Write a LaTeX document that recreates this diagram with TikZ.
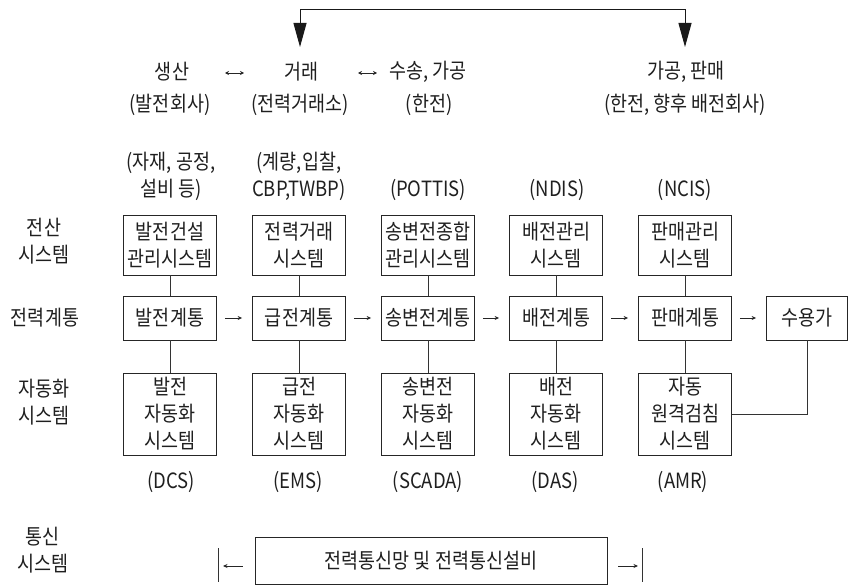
\documentclass[tikz,border=0pt]{standalone}
\usepackage{fontspec}
\setmainfont{Noto Sans CJK KR}[FakeStretch=0.88]
\usetikzlibrary{arrows.meta}
\begin{document}
\begin{tikzpicture}[x=1pt,y=-1pt,
  every node/.style={font=\fontsize{21}{27}\selectfont, text=black!88, inner sep=0pt, align=center},
  box/.style={draw=black!85, line width=0.8pt, minimum width=93pt},
  boxA/.style={box, minimum height=60pt},
  boxB/.style={box, minimum height=44pt},
  boxC/.style={box, minimum height=82pt},
  conn/.style={draw=black!80, line width=0.8pt},
  harrow/.style={draw=black!85, line width=0.8pt, -{Stealth[length=4.5pt,width=4pt]}},
  darrow/.style={draw=black!85, line width=0.8pt, {Stealth[length=4pt,width=4pt]}-{Stealth[length=4pt,width=4pt]}},
  bigarrow/.style={draw=black!90, line width=1pt, {Triangle[length=24pt,width=13pt]}-{Triangle[length=24pt,width=13pt]}}
]
\useasboundingbox (0,0) rectangle (849,586);

% top flow
\node (t1) at (172,72) {생산};
\node (t2) at (301,72) {거래};
\node (t3) at (428,72) {수송, 가공};
\node (t4) at (686,72) {가공, 판매};
\node (s1) at (170,105) {(발전회사)};
\node (s2) at (300,105) {(전력거래소)};
\node (s3) at (429,105) {(한전)};
\node (s4) at (685,105) {(한전, 향후 배전회사)};

\coordinate (d1a) at (225,73);
\coordinate (d1b) at (244,73);
\coordinate (d2a) at (358,73);
\coordinate (d2b) at (377,73);
\draw[darrow] (d1a) -- (d1b);
\draw[darrow] (d2a) -- (d2b);

\coordinate (ta) at (300,10);
\coordinate (tae) at (300,47);
\coordinate (tb) at (685,10);
\coordinate (tbe) at (685,47);
\draw[bigarrow] (tae) -- (ta) -- (tb) -- (tbe);

% system labels
\node (l1) at (171,176.5) {(자재, 공정,\\설비 등)};
\node (l2) at (299,176.5) {(계량,입찰,\\CBP,TWBP)};
\node (l3) at (428,190) {(POTTIS)};
\node (l4) at (557,190) {(NDIS)};
\node (l5) at (685,190) {(NCIS)};

% left labels
\node (r1) at (44,241.5) {전산\\시스템};
\node (r2) at (45,318) {전력계통};
\node (r3) at (44,402.5) {자동화\\시스템};
\node (r4) at (43,550) {통신\\시스템};

% row A
\node[boxA] (a1) at (170,245) {발전건설\\관리시스템};
\node[boxA] (a2) at (299,245) {전력거래\\시스템};
\node[boxA] (a3) at (428,245) {송변전종합\\관리시스템};
\node[boxA] (a4) at (556,245) {배전관리\\시스템};
\node[boxA] (a5) at (685,245) {판매관리\\시스템};

% row B
\node[boxB] (b1) at (170,318) {발전계통};
\node[boxB] (b2) at (299,318) {급전계통};
\node[boxB] (b3) at (428,318) {송변전계통};
\node[boxB] (b4) at (556,318) {배전계통};
\node[boxB] (b5) at (685,318) {판매계통};
\node[boxB, minimum width=81pt] (b6) at (807,318) {수용가};

% row C
\node[boxC] (c1) at (170,414) {발전\\자동화\\시스템};
\node[boxC] (c2) at (299,414) {급전\\자동화\\시스템};
\node[boxC] (c3) at (428,414) {송변전\\자동화\\시스템};
\node[boxC] (c4) at (556,414) {배전\\자동화\\시스템};
\node[boxC] (c5) at (685,414) {자동\\원격검침\\시스템};

\node (e1) at (171,482) {(DCS)};
\node (e2) at (298,482) {(EMS)};
\node (e3) at (428,482) {(SCADA)};
\node (e4) at (555,482) {(DAS)};
\node (e5) at (683,482) {(AMR)};

% vertical connectors
\foreach \i in {1,...,5}{
  \draw[conn] (a\i) -- (b\i);
  \draw[conn] (b\i) -- (c\i);
}
\draw[conn] (b6) |- (c5);

% horizontal arrows
\draw[harrow] ([xshift=8pt]b1.east) -- ([xshift=-10pt]b2.west);
\draw[harrow] ([xshift=8pt]b2.east) -- ([xshift=-10pt]b3.west);
\draw[harrow] ([xshift=8pt]b3.east) -- ([xshift=-10pt]b4.west);
\draw[harrow] ([xshift=8pt]b4.east) -- ([xshift=-10pt]b5.west);
\draw[harrow] ([xshift=8pt]b5.east) -- ([xshift=-10pt]b6.west);

% communication
\node[draw=black!85, line width=0.8pt, minimum width=352pt, minimum height=47pt] (bb) at (431,560.5) {전력통신망 및 전력통신설비};
\coordinate (barL) at (218,566);
\coordinate (barR) at (642,566);
\draw[conn] (218,548) -- (218,582);
\draw[conn] (642,548) -- (642,582);
\draw[harrow] ([xshift=-12pt]bb.west |- barL) -- ([xshift=5pt]barL);
\draw[harrow] ([xshift=11pt]bb.east |- barR) -- ([xshift=-4pt]barR);
\end{tikzpicture}
\end{document}
